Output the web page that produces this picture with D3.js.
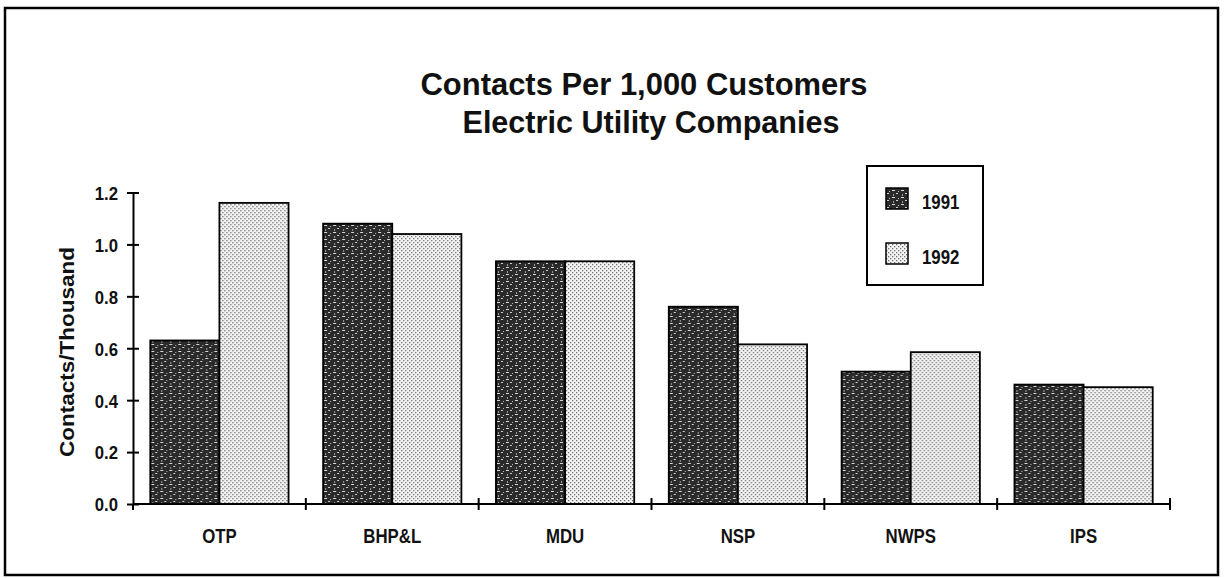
<!DOCTYPE html>
<html>
<head>
<meta charset="utf-8">
<script src="https://cdn.jsdelivr.net/npm/d3@7"></script>
<style>
  html, body { margin: 0; padding: 0; background: #fff; }
  svg { display: block; }
  text { font-family: "Liberation Sans", Arial, sans-serif; fill: #111; }
</style>
</head>
<body>
<svg id="chart" width="1224" height="578"></svg>
<script>
const categories = ["OTP", "BHP&L", "MDU", "NSP", "NWPS", "IPS"];
const seriesNames = ["1991", "1992"];
const values1991 = [0.63, 1.08, 0.935, 0.76, 0.51, 0.46];
const values1992 = [1.16, 1.04, 0.935, 0.615, 0.585, 0.45];
const yTicks = [0.0, 0.2, 0.4, 0.6, 0.8, 1.0, 1.2];
const titleLines = ["Contacts Per 1,000 Customers", "Electric Utility Companies"];
const yLabel = "Contacts/Thousand";

const svg = d3.select("#chart");
const W = 1224, H = 578;
const margin = { left: 133, right: W - 1170, top: 192.5, bottom: H - 504 };

function condense(sel, f) {
  sel.each(function () {
    const len = this.getComputedTextLength();
    d3.select(this).attr("textLength", len * f).attr("lengthAdjust", "spacingAndGlyphs");
  });
}

// patterns
const defs = svg.append("defs");
const pDark = defs.append("pattern").attr("id", "pDark").attr("patternUnits", "userSpaceOnUse")
  .attr("width", 9).attr("height", 7);
pDark.append("rect").attr("width", 9).attr("height", 7).attr("fill", "#2a2a2a");
pDark.append("rect").attr("x", 1).attr("y", 1).attr("width", 3).attr("height", 1).attr("fill", "#d8d8d8");
pDark.append("rect").attr("x", 5).attr("y", 4).attr("width", 2).attr("height", 1).attr("fill", "#cfcfcf");
pDark.append("rect").attr("x", 7).attr("y", 2).attr("width", 1).attr("height", 1).attr("fill", "#bbbbbb");
pDark.append("rect").attr("x", 2).attr("y", 5).attr("width", 1).attr("height", 2).attr("fill", "#9a9a9a");

const pLight = defs.append("pattern").attr("id", "pLight").attr("patternUnits", "userSpaceOnUse")
  .attr("width", 4).attr("height", 4);
pLight.append("rect").attr("width", 4).attr("height", 4).attr("fill", "#f4f4f4");
pLight.append("rect").attr("x", 0).attr("y", 0).attr("width", 1.3).attr("height", 1.3).attr("fill", "#707070");
pLight.append("rect").attr("x", 2).attr("y", 2).attr("width", 1.3).attr("height", 1.3).attr("fill", "#707070");

const fills = ["url(#pDark)", "url(#pLight)"];

// frame
svg.append("rect").attr("x", 5).attr("y", 8).attr("width", 1213).attr("height", 567)
  .attr("fill", "none").attr("stroke", "#000").attr("stroke-width", 2.5);

// scales
const x0 = d3.scaleBand().domain(categories)
  .range([margin.left, W - margin.right]).paddingInner(0.2).paddingOuter(0.1);
const x1 = d3.scaleBand().domain(seriesNames).range([0, x0.bandwidth()]).padding(0);
const y = d3.scaleLinear().domain([0, 1.2]).range([H - margin.bottom, margin.top]);

// title
svg.append("text").attr("x", 644).attr("y", 95).attr("text-anchor", "middle")
  .attr("font-size", 32).attr("font-weight", "bold")
  .attr("textLength", 447).attr("lengthAdjust", "spacingAndGlyphs").text(titleLines[0]);
svg.append("text").attr("x", 651).attr("y", 133).attr("text-anchor", "middle")
  .attr("font-size", 32).attr("font-weight", "bold")
  .attr("textLength", 377).attr("lengthAdjust", "spacingAndGlyphs").text(titleLines[1]);

// bars
const data = categories.map((c, i) => ({ cat: c, vals: [values1991[i], values1992[i]] }));
const groups = svg.append("g").selectAll("g").data(data).join("g")
  .attr("transform", d => `translate(${x0(d.cat)},0)`);
groups.selectAll("rect").data(d => d.vals.map((v, j) => ({ s: seriesNames[j], v, j })))
  .join("rect")
  .attr("x", d => x1(d.s))
  .attr("y", d => y(d.v))
  .attr("width", x1.bandwidth())
  .attr("height", d => y(0) - y(d.v))
  .attr("fill", d => fills[d.j])
  .attr("stroke", "#000").attr("stroke-width", 1.8);

// y axis
const yAxis = svg.append("g").attr("transform", `translate(${margin.left},0)`)
  .call(d3.axisLeft(y).tickValues(yTicks).tickFormat(d3.format(".1f")).tickSizeInner(6).tickSizeOuter(0));
yAxis.select(".domain").attr("stroke", "#000").attr("stroke-width", 2);
yAxis.selectAll(".tick line").attr("stroke", "#000").attr("stroke-width", 2).attr("x1", 6).attr("x2", -6);
yAxis.selectAll(".tick text").attr("x", -15).attr("dy", "0.36em")
  .attr("font-size", 19).attr("font-weight", "bold")
  .attr("font-family", "Liberation Sans, Arial, sans-serif").attr("fill", "#111");
condense(yAxis.selectAll(".tick text"), 0.88);

// x axis
const xAxisG = svg.append("g").attr("transform", `translate(0,${y(0)})`);
xAxisG.append("line").attr("x1", margin.left).attr("x2", W - margin.right)
  .attr("stroke", "#000").attr("stroke-width", 2);
const step = x0.step();
const boundaries = categories.map((c, i) => x0(c) + x0.bandwidth() + step * x0.paddingInner() / 2);
xAxisG.selectAll("line.tk").data(boundaries).join("line").attr("class", "tk")
  .attr("x1", d => d).attr("x2", d => d).attr("y1", -6).attr("y2", 6)
  .attr("stroke", "#000").attr("stroke-width", 2);
xAxisG.append("line").attr("x1", margin.left).attr("x2", margin.left).attr("y1", 0).attr("y2", 6)
  .attr("stroke", "#000").attr("stroke-width", 2);
const xl = xAxisG.selectAll("text").data(categories).join("text")
  .attr("x", d => x0(d) + x0.bandwidth() / 2).attr("y", 39)
  .attr("text-anchor", "middle").attr("font-size", 20).attr("font-weight", "bold")
  .text(d => d);
condense(xl, 0.84);

// y label
svg.append("text").attr("transform", "translate(74,352) rotate(-90)")
  .attr("text-anchor", "middle").attr("font-size", 20).attr("font-weight", "bold")
  .attr("textLength", 210).attr("lengthAdjust", "spacingAndGlyphs").text(yLabel);

// legend
const lg = svg.append("g");
lg.append("rect").attr("x", 867).attr("y", 166).attr("width", 116).attr("height", 119)
  .attr("fill", "#fff").attr("stroke", "#000").attr("stroke-width", 2);
seriesNames.forEach((s, i) => {
  const yy = 188 + i * 55;
  lg.append("rect").attr("x", 886).attr("y", yy).attr("width", 22).attr("height", 21)
    .attr("fill", fills[i]).attr("stroke", "#000").attr("stroke-width", 1.5);
  const t = lg.append("text").attr("x", 922).attr("y", yy + 21).attr("font-size", 21).attr("font-weight", "bold")
    .text(s);
  condense(t, 0.8);
});
</script>
</body>
</html>
